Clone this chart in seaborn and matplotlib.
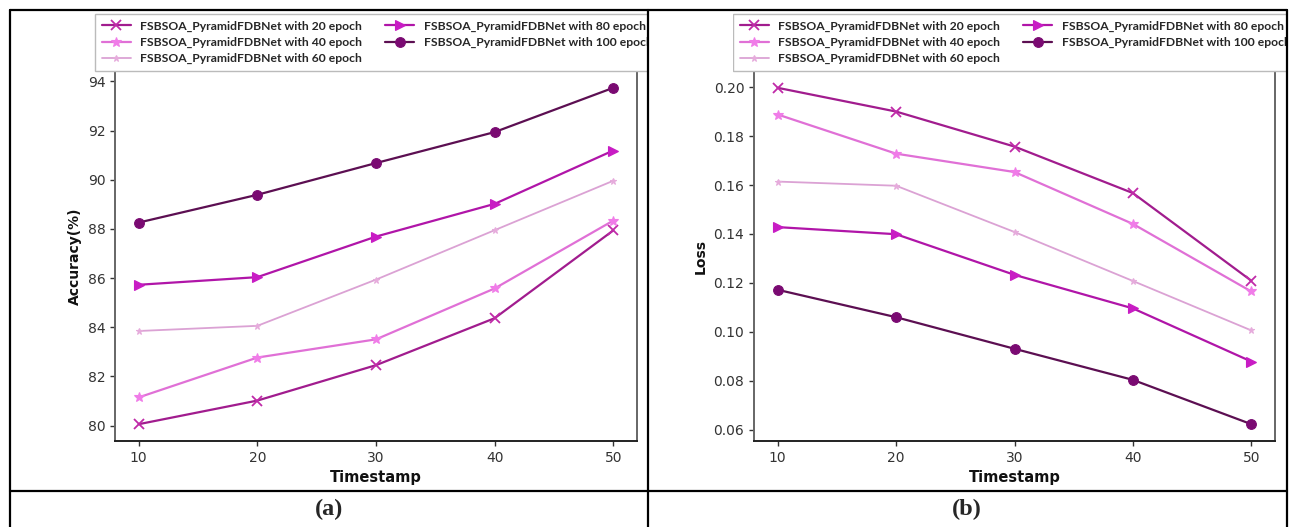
import numpy as np
import pandas as pd
import matplotlib.pyplot as plt
import seaborn as sns
from matplotlib.lines import Line2D
from matplotlib.patches import Rectangle

# data
timestamps = [10, 20, 30, 40, 50]
epochs = ["20", "40", "60", "80", "100"]

acc_20 = [80.06, 81.02, 82.46, 84.37, 87.94]
acc_40 = [81.15, 82.77, 83.51, 85.58, 88.34]
acc_60 = [83.85, 84.06, 85.94, 87.95, 89.96]
acc_80 = [85.73, 86.04, 87.69, 89.02, 91.19]
acc_100 = [88.26, 89.39, 90.68, 91.94, 93.74]

loss_20 = [0.1997, 0.1900, 0.1757, 0.1567, 0.1209]
loss_40 = [0.1888, 0.1728, 0.1653, 0.1441, 0.1165]
loss_60 = [0.1614, 0.1597, 0.1408, 0.1208, 0.1006]
loss_80 = [0.1428, 0.1399, 0.1233, 0.1096, 0.0879]
loss_100 = [0.1172, 0.1060, 0.0931, 0.0804, 0.0623]

W, H = 1291, 527

sns.set_theme(style="ticks")
plt.rcParams['font.family'] = ['DejaVu Sans']

# per-series style: line colour, marker colour, marker, marker size, line width
styles = {
    "20": ("#a11c8e", "#c02aa8", "x", 7, 1.6),
    "40": ("#e070d6", "#f07ce8", "*", 7, 1.6),
    "60": ("#dba2d4", "#e6acdc", "*", 4.5, 1.3),
    "80": ("#b015a8", "#c81cc4", ">", 7, 1.6),
    "100": ("#5c0f52", "#7a0a72", "o", 7, 1.6),
}

acc_df = pd.DataFrame({"Timestamp": timestamps * 5,
                       "epoch": np.repeat(epochs, 5),
                       "value": acc_20 + acc_40 + acc_60 + acc_80 + acc_100})
loss_df = pd.DataFrame({"Timestamp": timestamps * 5,
                        "epoch": np.repeat(epochs, 5),
                        "value": loss_20 + loss_40 + loss_60 + loss_80 + loss_100})

fig = plt.figure(figsize=(W / 100, H / 100), dpi=100)
fig.patch.set_facecolor("white")


def px_axes(left, right, top, bottom):
    return fig.add_axes([left / W, 1 - bottom / H, (right - left) / W, (bottom - top) / H])


ax_a = px_axes(115, 637, 71, 441)
ax_b = px_axes(754, 1275, 71, 441)


def draw_panel(ax, df, ylabel, legend_xy):
    for ep in epochs:
        lc, mc, mk, ms, lw = styles[ep]
        sub = df[df["epoch"] == ep]
        sns.lineplot(data=sub, x="Timestamp", y="value", ax=ax, color=lc,
                     marker=mk, markersize=ms, markerfacecolor=mc,
                     markeredgecolor=mc, markeredgewidth=1.3 if mk == "x" else 0.8,
                     linewidth=lw, label=f"FSBSOA_PyramidFDBNet with {ep} epoch")
    ax.set_xticks(timestamps)
    ax.set_xlabel("Timestamp", fontsize=10.5, fontweight="bold", color="#111111")
    ax.set_ylabel(ylabel, fontsize=10, fontweight="bold", color="#111111")
    ax.tick_params(labelsize=10, colors="#333333", length=3.5, width=1)
    for sp in ax.spines.values():
        sp.set_visible(True)
        sp.set_color("#666666")
        sp.set_linewidth(1.4)
    ax.spines["bottom"].set_color("#222222")
    handles, labels = ax.get_legend_handles_labels()
    leg = ax.legend(handles, labels, ncol=2, loc="upper left",
                    bbox_to_anchor=(legend_xy[0] / W, 1 - legend_xy[1] / H),
                    bbox_transform=fig.transFigure, borderaxespad=0,
                    prop={"family": "Lato", "weight": "bold", "size": 8.7},
                    frameon=True, fancybox=False, edgecolor="#bbbbbb",
                    framealpha=1, handlelength=2.4, labelspacing=0.42,
                    columnspacing=1.9, borderpad=0.55, handletextpad=0.8)
    leg.set_zorder(4)


draw_panel(ax_a, acc_df, "Accuracy(%)", (95, 14))
draw_panel(ax_b, loss_df, "Loss", (733, 14))
ax_a.set_yticks([80, 82, 84, 86, 88, 90, 92, 94])
ax_b.set_yticks([0.06, 0.08, 0.10, 0.12, 0.14, 0.16, 0.18, 0.20])
ax_b.yaxis.set_major_formatter(plt.FormatStrFormatter("%.2f"))

# clip the legends at the table cell borders
for x0, x1 in [(649, 733), (1287, W + 2)]:
    fig.add_artist(Rectangle((x0 / W, 1 - 78 / H), (x1 - x0) / W, 67 / H,
                             transform=fig.transFigure, facecolor="white",
                             edgecolor="none", zorder=5))

# table lines around the two panels
def hline(y, x0, x1):
    fig.add_artist(Line2D([x0 / W, x1 / W], [1 - y / H, 1 - y / H],
                          transform=fig.transFigure, color="black", lw=1.6, zorder=10))


def vline(x, y0, y1):
    fig.add_artist(Line2D([x / W, x / W], [1 - y0 / H, 1 - y1 / H],
                          transform=fig.transFigure, color="black", lw=1.6, zorder=10))


hline(10, 10, 1287)
hline(491, 10, 1287)
vline(10, 10, H)
vline(648, 10, H)
vline(1287, 10, H)

for txt, cx in [("(a)", 329), ("(b)", 967)]:
    fig.text(cx / W, 1 - 509 / H, txt, ha="center", va="center",
             fontsize=17.5, fontweight="bold", family="Liberation Serif")

fig.savefig("out.png", dpi=100, facecolor="white")
